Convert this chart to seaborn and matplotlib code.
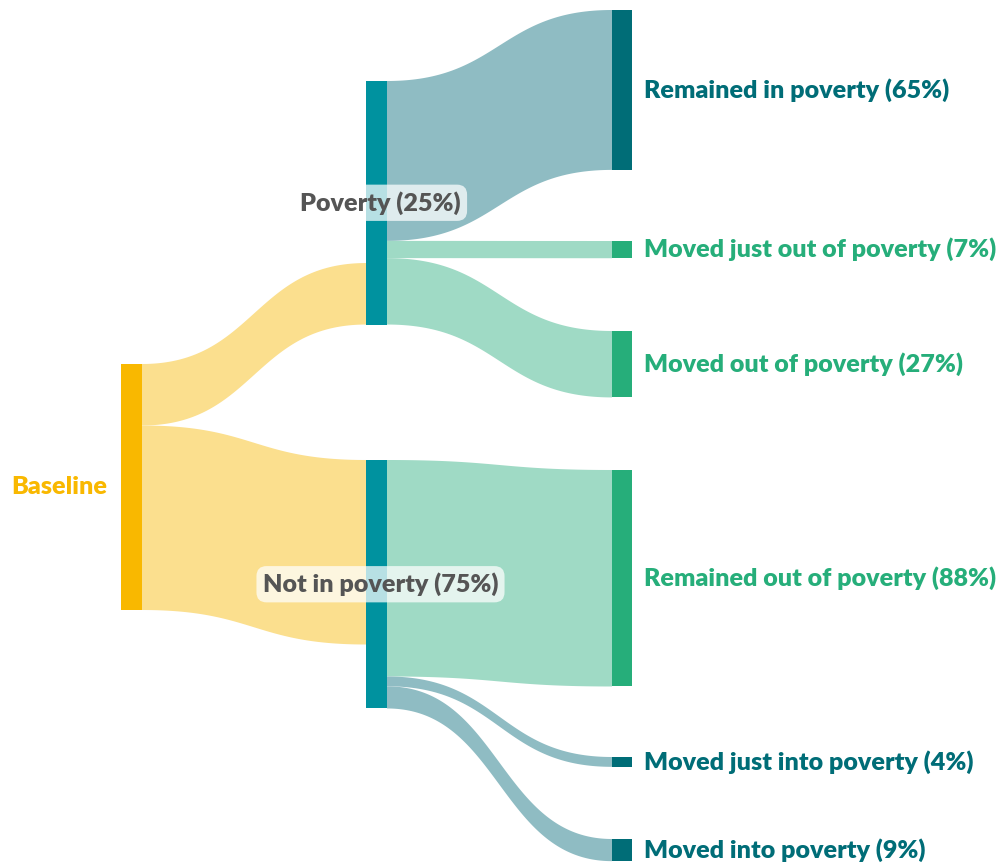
import numpy as np
import matplotlib
matplotlib.use("Agg")
import matplotlib.pyplot as plt
import seaborn as sns

# ---------------- data ----------------
root_label = "Baseline"
mid_labels = ["Poverty", "Not in poverty"]
mid_share = [25, 75]                       # % of baseline
out_labels = [
    ["Remained in poverty", "Moved just out of poverty", "Moved out of poverty"],
    ["Remained out of poverty", "Moved just into poverty", "Moved into poverty"],
]
out_share = [[65, 7, 27], [88, 4, 9]]      # % of each group
out_kind = [["poverty", "out", "out"], ["out", "poverty", "poverty"]]

# ---------------- layout / style ----------------
sns.set_theme(style="white")
plt.rcParams["font.family"] = ["Lato", "DejaVu Sans"]

W, H = 1006, 864
S = 2.46                      # px per percentage point
x_root, x_mid, x_out = 121, 366, 612
node_w = 21
root_top = 364
mid_top = [81, 460]
mid_in_align = ["bottom", "top"]
out_top = [[10, 241, 331], [470, 757, 839]]

c_root = "#F9B800"
c_root_link = "#FBDF8E"
c_mid = "#00929F"
c_node = {"poverty": "#006D77", "out": "#26AE7A"}
c_link = {"poverty": "#8FBCC3", "out": "#9FDAC5"}
c_midtext = "#555555"
fs = 18.1
fw = "heavy"

fig = plt.figure(figsize=(W / 100, H / 100), dpi=100)
ax = fig.add_axes([0, 0, 1, 1])
ax.set_xlim(0, W)
ax.set_ylim(H, 0)
ax.axis("off")


def link(x0, y0a, y0b, x1, y1a, y1b, color):
    t = np.linspace(0, 1, 200)
    xm = (x0 + x1) / 2
    bx = (1 - t) ** 3 * x0 + 3 * (1 - t) ** 2 * t * xm + 3 * (1 - t) * t ** 2 * xm + t ** 3 * x1
    h = 3 * t ** 2 - 2 * t ** 3
    top = y0a + (y1a - y0a) * h
    bot = y0b + (y1b - y0b) * h
    xs = np.concatenate([bx, bx[::-1]])
    ys = np.concatenate([top, bot[::-1]])
    ax.fill(xs, ys, color=color, lw=0, zorder=1)


def node(x, y, h, color, w=node_w):
    ax.bar(x, h, width=w, bottom=y, align="edge", color=color, lw=0, zorder=3)


# root node
root_h = sum(mid_share) * S
node(x_root, root_top, root_h, c_root)
ax.text(x_root - 14, root_top + root_h / 2, root_label, ha="right", va="center",
        color=c_root, fontsize=fs, fontweight=fw, zorder=5)

y_src = root_top
for i, share in enumerate(mid_share):
    in_h = share * S
    out_h = sum(out_share[i]) * S
    mid_h = max(in_h, out_h)
    mtop = mid_top[i]
    if mid_in_align[i] == "bottom":
        in_y = mtop + mid_h - in_h
    else:
        in_y = mtop
    link(x_root + node_w, y_src, y_src + in_h, x_mid, in_y, in_y + in_h, c_root_link)
    y_src += in_h

    node(x_mid, mtop, mid_h, c_mid)
    ax.text(x_mid + node_w / 2 + 4, mtop + mid_h / 2, f"{mid_labels[i]} ({share}%)",
            ha="center", va="center", color=c_midtext, fontsize=fs, fontweight=fw,
            zorder=6,
            bbox=dict(boxstyle="round,pad=0.25,rounding_size=0.4", fc="white",
                      ec="none", alpha=0.72))

    ys = mtop
    for j, v in enumerate(out_share[i]):
        h = v * S
        kind = out_kind[i][j]
        ot = out_top[i][j]
        link(x_mid + node_w, ys, ys + h, x_out, ot, ot + h, c_link[kind])
        ys += h
        node(x_out, ot, h, c_node[kind], w=20)
        ax.text(x_out + 32, ot + h / 2, f"{out_labels[i][j]} ({v}%)", ha="left",
                va="center", color=c_node[kind], fontsize=fs, fontweight=fw,
                zorder=5)

fig.savefig("out.png", dpi=100)
